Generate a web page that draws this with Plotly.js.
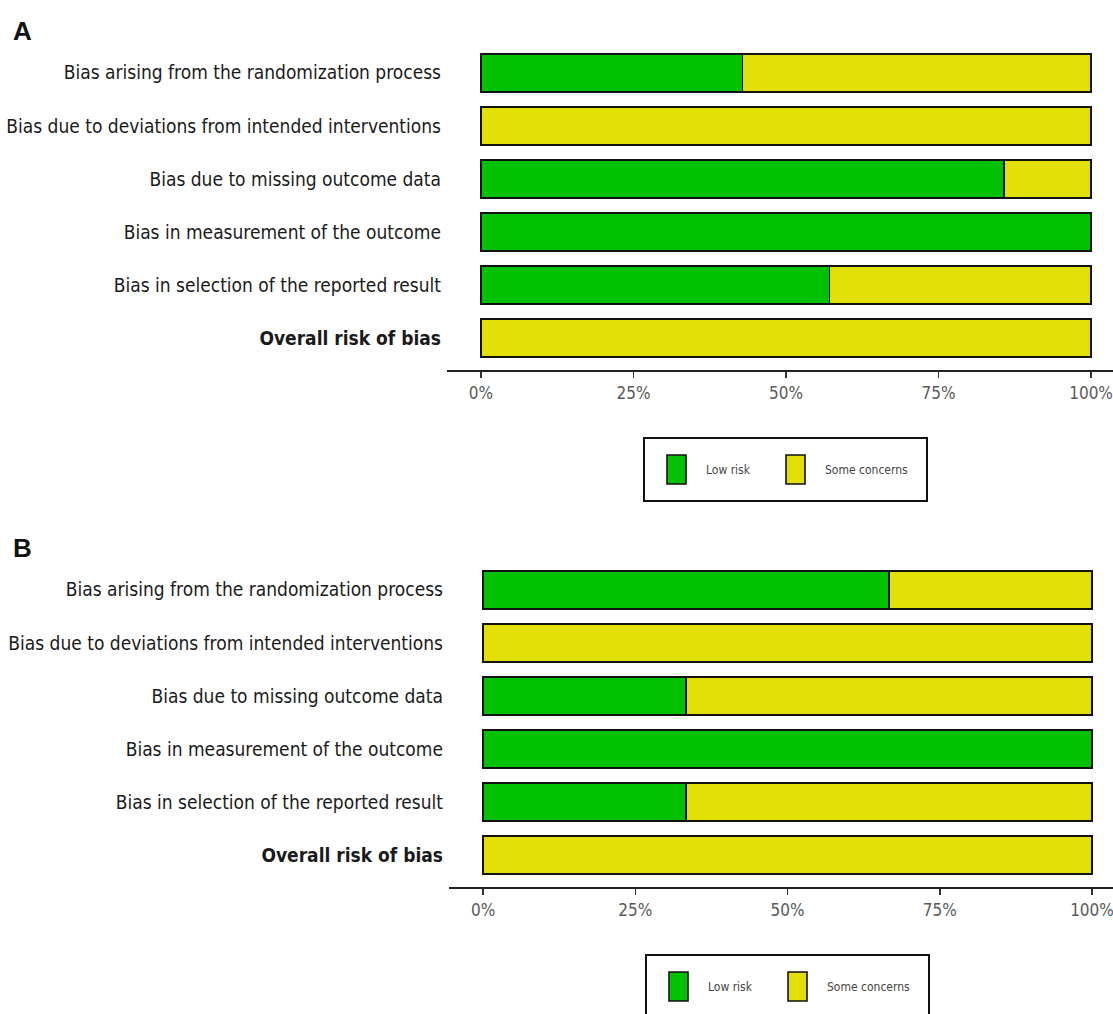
<!DOCTYPE html>
<html><head><meta charset="utf-8">
<script src="https://cdn.plot.ly/plotly-3.0.1.min.js"></script>
<style>html,body{margin:0;padding:0;background:#fff}</style>
</head><body><div id="chart" style="width:1113px;height:1014px"></div>
<script>
// ---- data ----
const domains = [
  "Bias arising from the randomization process",
  "Bias due to deviations from intended interventions",
  "Bias due to missing outcome data",
  "Bias in measurement of the outcome",
  "Bias in selection of the reported result",
  "Overall risk of bias"
];
const seriesNames = ["Low risk", "Some concerns"];
const lowRiskA      = [42.86, 0, 85.71, 100, 57.14, 0];
const someConcernsA = [57.14, 100, 14.29, 0, 42.86, 100];
const lowRiskB      = [66.67, 0, 33.33, 100, 33.33, 0];
const someConcernsB = [33.33, 100, 66.67, 0, 66.67, 100];
const xTickVals = [0, 25, 50, 75, 100];
const xTickLabels = ["0%", "25%", "50%", "75%", "100%"];
const panelLabels = ["A", "B"];

// ---- style ----
const W = 1113, H = 1014;
const GREEN = "#02C100", YELLOW = "#E2DF07";
const NARROW = "'Liberation Sans Narrow', 'Arial Narrow', 'DejaVu Sans Condensed', sans-serif";
const px = x => x / W;
const py = y => 1 - y / H;

const yTickText = domains.map((d, i) => i === domains.length - 1 ? "<b>" + d + "</b>" : d);

function barTrace(vals, name, color, xa, ya) {
  return {
    type: "bar", orientation: "h", x: vals, y: domains, name: name,
    xaxis: xa, yaxis: ya, showlegend: false, hoverinfo: "x+y",
    marker: {color: color, line: {color: "#111", width: 1.6}}
  };
}

const data = [
  barTrace(lowRiskA, seriesNames[0], GREEN, "x", "y"),
  barTrace(someConcernsA, seriesNames[1], YELLOW, "x", "y"),
  barTrace(lowRiskB, seriesNames[0], GREEN, "x2", "y2"),
  barTrace(someConcernsB, seriesNames[1], YELLOW, "x2", "y2")
];

function xAxis(domainLeft, range, anchor) {
  return {
    domain: [domainLeft, 1], range: range, anchor: anchor,
    tickvals: xTickVals, ticktext: xTickLabels,
    showgrid: false, zeroline: false,
    showline: true, linecolor: "#222", linewidth: 2.2,
    ticks: "outside", ticklen: 6, tickwidth: 1.6, tickcolor: "#333",
    tickfont: {family: NARROW, size: 17, color: "#5a5a5a"},
    ticklabeloverflow: "allow",
    automargin: false, fixedrange: true
  };
}
function yAxis(dom, anchor) {
  return {
    domain: dom, anchor: anchor, type: "category",
    categoryarray: domains, categoryorder: "array",
    range: [5.6, -0.6],
    tickvals: domains, ticktext: yTickText,
    showgrid: false, zeroline: false, showline: false, ticks: "",
    ticklabelstandoff: 5,
    tickfont: {family: NARROW, size: 19, color: "#1a1a1a"},
    automargin: false, fixedrange: true
  };
}

const shapes = [], annotations = [];
function legendAt(dx, dy) {
  shapes.push({type: "rect", xref: "paper", yref: "paper",
    x0: px(644 + dx), x1: px(927 + dx), y0: py(438 + dy), y1: py(501 + dy),
    line: {color: "#111", width: 2}, fillcolor: "rgba(0,0,0,0)"});
  const keys = [[667, GREEN, 704], [786, YELLOW, 823]];
  keys.forEach((k, i) => {
    shapes.push({type: "rect", xref: "paper", yref: "paper",
      x0: px(k[0] + dx), x1: px(k[0] + 19 + dx), y0: py(455 + dy), y1: py(484 + dy),
      line: {color: "#111", width: 1.6}, fillcolor: k[1]});
    annotations.push({xref: "paper", yref: "paper", x: px(k[2] + dx), y: py(470 + dy),
      xanchor: "left", yanchor: "middle", showarrow: false, text: seriesNames[i],
      font: {family: NARROW, size: 12, color: "#444"}});
  });
}
legendAt(0, 0);
legendAt(2, 517);

annotations.push({xref: "paper", yref: "paper", x: px(11), y: py(31), xanchor: "left", yanchor: "middle",
  showarrow: false, text: "<b>" + panelLabels[0] + "</b>", font: {family: "Liberation Sans, Arial, sans-serif", size: 26, color: "#111"}});
annotations.push({xref: "paper", yref: "paper", x: px(11), y: py(548), xanchor: "left", yanchor: "middle",
  showarrow: false, text: "<b>" + panelLabels[1] + "</b>", font: {family: "Liberation Sans, Arial, sans-serif", size: 26, color: "#111"}});

const layout = {
  width: W, height: H, margin: {l: 0, r: 0, t: 0, b: 0},
  paper_bgcolor: "#fff", plot_bgcolor: "#fff",
  barmode: "stack", bargap: 0.28, showlegend: false,
  xaxis: xAxis(px(447), [-5.57, 103.6], "y"),
  yaxis: yAxis([py(370), py(41)], "x"),
  xaxis2: xAxis(px(449), [-5.6, 103.45], "y2"),
  yaxis2: yAxis([py(887), py(558)], "x2"),
  shapes: shapes, annotations: annotations
};

Plotly.newPlot("chart", data, layout, {displayModeBar: false, staticPlot: true});
</script>
</body></html>
